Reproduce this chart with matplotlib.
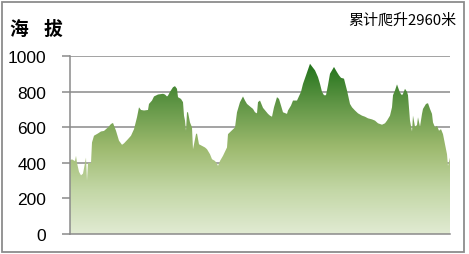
import matplotlib
matplotlib.use("Agg")
import matplotlib.pyplot as plt
import numpy as np
from matplotlib.colors import LinearSegmentedColormap
from matplotlib.patches import Rectangle

plt.rcParams['font.family'] = ['Noto Sans CJK SC', 'DejaVu Sans']

# distance (km) and elevation (m)
distance = [0.0, 0.2, 0.5, 0.6, 0.7, 0.9, 1.1, 1.3, 1.4, 1.6, 1.7, 1.8, 2.1, 2.2,
            2.4, 2.8, 3.1, 3.4, 3.8, 4.1, 4.3, 4.6, 4.9, 5.2, 5.4, 5.8, 6.1, 6.4,
            6.7, 6.9, 7.1, 7.4, 7.8, 7.9, 8.2, 8.4, 8.8, 9.3, 9.5, 9.7, 9.8, 10.0,
            10.3, 10.5, 10.7, 10.8, 11.1, 11.3, 11.4, 11.5, 11.6, 11.7, 11.8, 12.0,
            12.2, 12.3, 12.4, 12.6, 12.7, 12.9, 13.2, 13.5, 13.7, 14.0, 14.2, 14.5,
            14.7, 14.8, 15.0, 15.3, 15.7, 15.8, 16.5, 16.7, 17.0, 17.3, 17.5, 17.7,
            18.1, 18.3, 18.5, 18.7, 18.8, 19.0, 19.3, 19.8, 20.0, 20.2, 20.4, 20.7,
            20.9, 21.1, 21.3, 21.7, 21.8, 22.1, 22.3, 22.7, 23.1, 23.3, 23.6, 24.0,
            24.2, 24.5, 24.8, 25.0, 25.2, 25.4, 25.6, 25.8, 26.0, 26.4, 26.7, 26.9,
            27.1, 27.4, 27.7, 28.0, 28.2, 28.5, 28.8, 29.2, 29.5, 29.8, 30.2, 30.5,
            30.8, 31.2, 31.5, 31.7, 32.0, 32.2, 32.3, 32.5, 32.7, 32.8, 33.0, 33.2,
            33.3, 33.5, 33.7, 33.8, 34.0, 34.2, 34.3, 34.5, 34.7, 34.8, 35.0, 35.2,
            35.3, 35.6, 35.8, 36.0, 36.2, 36.3, 36.5, 36.7, 36.9, 37.1, 37.3, 37.5,
            37.7, 37.8, 38.0]
elevation = [415, 420, 410, 440, 400, 350, 330, 340, 370, 430, 300, 400, 400, 515,
             553, 566, 577, 580, 600, 619, 625, 581, 525, 502, 510, 534, 553, 590,
             657, 713, 698, 695, 698, 732, 751, 774, 785, 789, 785, 774, 779, 800,
             826, 832, 817, 770, 760, 742, 666, 638, 581, 685, 685, 628, 600, 477,
             505, 562, 566, 505, 496, 487, 477, 449, 421, 411, 396, 383, 411, 440,
             487, 562, 600, 685, 742, 774, 751, 732, 713, 704, 685, 679, 742, 751,
             710, 676, 666, 660, 713, 770, 760, 723, 685, 676, 695, 723, 751, 751,
             800, 845, 893, 958, 943, 921, 883, 845, 800, 781, 781, 838, 902, 940,
             911, 893, 879, 874, 808, 732, 713, 695, 679, 666, 660, 651, 645, 638,
             623, 615, 623, 638, 666, 713, 781, 808, 842, 826, 795, 781, 789, 817,
             800, 781, 638, 577, 666, 604, 613, 657, 604, 676, 704, 732, 736, 704,
             676, 628, 600, 609, 581, 590, 562, 505, 449, 383, 430, 487, 458, 411,
             402]

n = min(len(distance), len(elevation))
distance = distance[:n]
elevation = elevation[:n]

y_ticks = [0, 200, 400, 600, 800, 1000]
title_chars = ["海", "拔"]
gain_text = "累计爬升2960米"

W, H = 469, 255
fig = plt.figure(figsize=(W / 100, H / 100), dpi=100)
fig.patch.set_facecolor("white")
fig.patches.append(Rectangle((1.5 / W, 2.5 / H), 462 / W, 249.5 / H, transform=fig.transFigure,
                             fill=False, edgecolor="#8c8c8c", linewidth=1.3))

ax = fig.add_axes([70 / W, 20 / H, 380 / W, 177.7 / H])
ax.set_xlim(distance[0], distance[-1])
ax.set_ylim(0, 1000)

# gradient fill
cmap = LinearSegmentedColormap.from_list(
    "elev", [(0.0, "#e1ebd3"), (0.25, "#c3d7a6"), (0.5, "#9cb96d"),
             (0.75, "#5f9545"), (1.0, "#1b6f16")])
grad = np.linspace(0, 1, 256).reshape(-1, 1)
im = ax.imshow(grad, cmap=cmap, aspect="auto", origin="lower",
               extent=[distance[0], distance[-1], 0, 980], zorder=2)
poly = ax.fill_between(distance, 0, elevation, color="none", linewidth=0)
path = poly.get_paths()[0]
im.set_clip_path(path, transform=ax.transData)

ax.set_yticks(y_ticks)
ax.set_yticklabels([str(t) for t in y_ticks], fontsize=12.5, family=["Liberation Sans"])
ax.set_xticks([])
ax.grid(axis="y", color="#8a8a8a", linewidth=1.1, zorder=1)
ax.set_axisbelow(True)
for s in ["top", "right"]:
    ax.spines[s].set_visible(False)
ax.spines["left"].set_color("#8a8a8a")
ax.spines["bottom"].set_color("#8a8a8a")
ax.spines["left"].set_linewidth(1.1)
ax.spines["bottom"].set_linewidth(1.1)
ax.tick_params(axis="y", length=6, width=1.1, color="#8a8a8a", pad=11)

fig.text(9 / W, 1 - 29 / H, title_chars[0], fontsize=13.5, fontweight="bold", va="center", ha="left")
fig.text(44 / W, 1 - 29 / H, title_chars[1], fontsize=13.5, fontweight="bold", va="center", ha="left")
fig.text(456 / W, 1 - 21 / H, gain_text, fontsize=10.8, va="center", ha="right")

fig.savefig("out.png", dpi=100, facecolor="white")
